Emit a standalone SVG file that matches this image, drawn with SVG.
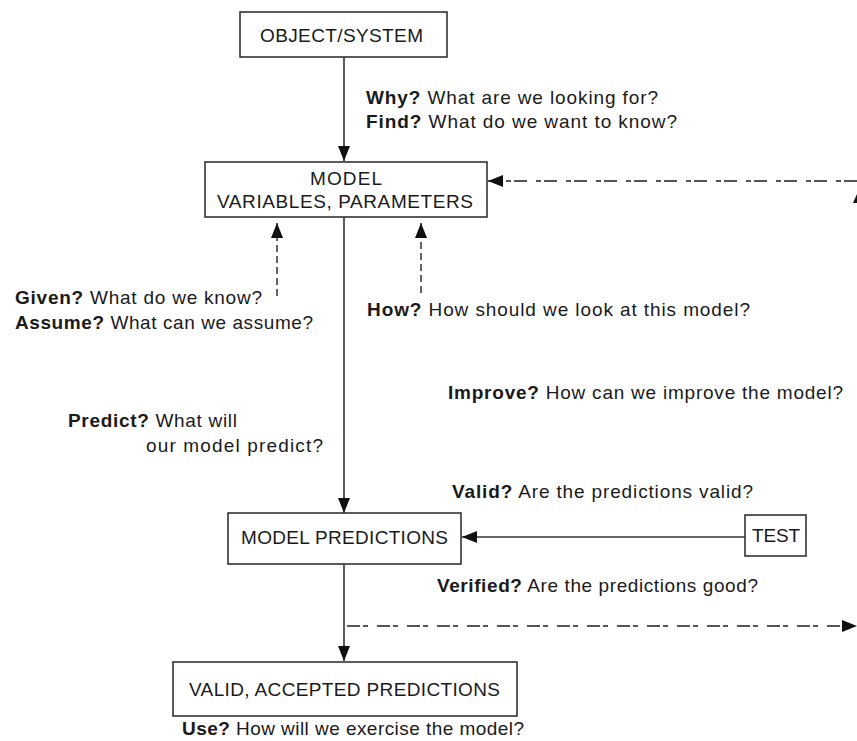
<svg xmlns="http://www.w3.org/2000/svg" width="857" height="741" viewBox="0 0 857 741">
<style>
.box{fill:#fff;stroke:#333;stroke-width:1.6}
.lbl{font-family:"Liberation Sans",Arial,sans-serif;font-size:19px;fill:#1a1a1a}
.b{font-weight:bold}
.solid{stroke:#333;stroke-width:1.6;fill:none}
.dash{stroke:#555;stroke-width:2;fill:none;stroke-dasharray:13 3 5 9}
.vdash{stroke:#555;stroke-width:1.8;fill:none;stroke-dasharray:7 4}
</style>
<defs>
<marker id="arr" markerUnits="userSpaceOnUse" markerWidth="15" markerHeight="12" refX="15" refY="6" orient="auto">
<path d="M0,0 L15,6 L0,12 z" fill="#111"/>
</marker>
</defs>
<rect width="857" height="741" fill="#fff"/>
<g id="connectors">
<line class="solid" x1="344" y1="57" x2="344" y2="161" marker-end="url(#arr)"/>
<line class="dash" x1="857" y1="181" x2="488" y2="181" marker-end="url(#arr)"/>
<polygon points="857,194 853,203 857,203" fill="#111"/>
<line class="vdash" x1="277" y1="296" x2="277" y2="223" marker-end="url(#arr)"/>
<line class="vdash" x1="421" y1="293" x2="421" y2="223" marker-end="url(#arr)"/>
<line class="solid" x1="344" y1="217" x2="344" y2="513" marker-end="url(#arr)"/>
<line class="solid" x1="745" y1="537" x2="462" y2="537" marker-end="url(#arr)"/>
<line class="solid" x1="344" y1="564" x2="344" y2="661" marker-end="url(#arr)"/>
<line class="dash" x1="347" y1="626" x2="857" y2="626" marker-end="url(#arr)"/>
</g>
<g id="object-system">
<rect class="box" x="240" y="12" width="207" height="45"/>
<text class="lbl" x="260" y="42" textLength="163" lengthAdjust="spacing">OBJECT/SYSTEM</text>
</g>
<g id="model">
<rect class="box" x="205" y="162" width="282" height="55"/>
<text class="lbl" x="310" y="185" textLength="72" lengthAdjust="spacing">MODEL</text>
<text class="lbl" x="217" y="208" textLength="256" lengthAdjust="spacing">VARIABLES, PARAMETERS</text>
</g>
<g id="model-predictions">
<rect class="box" x="228" y="513" width="233" height="51"/>
<text class="lbl" x="241" y="544" textLength="207" lengthAdjust="spacing">MODEL PREDICTIONS</text>
</g>
<g id="test">
<rect class="box" x="745" y="515" width="61" height="41"/>
<text class="lbl" x="752" y="542" textLength="48" lengthAdjust="spacing">TEST</text>
</g>
<g id="valid-accepted">
<rect class="box" x="173" y="662" width="344" height="54"/>
<text class="lbl" x="189" y="696" textLength="311" lengthAdjust="spacing">VALID, ACCEPTED PREDICTIONS</text>
</g>
<g id="labels">
<text class="lbl" x="366" y="104" textLength="292" lengthAdjust="spacing"><tspan class="b">Why?</tspan> What are we looking for?</text>
<text class="lbl" x="366" y="128" textLength="311" lengthAdjust="spacing"><tspan class="b">Find?</tspan> What do we want to know?</text>
<text class="lbl" x="15" y="304" textLength="247" lengthAdjust="spacing"><tspan class="b">Given?</tspan> What do we know?</text>
<text class="lbl" x="15" y="329" textLength="298" lengthAdjust="spacing"><tspan class="b">Assume?</tspan> What can we assume?</text>
<text class="lbl" x="367" y="316" textLength="383" lengthAdjust="spacing"><tspan class="b">How?</tspan> How should we look at this model?</text>
<text class="lbl" x="448" y="399" textLength="395" lengthAdjust="spacing"><tspan class="b">Improve?</tspan> How can we improve the model?</text>
<text class="lbl" x="68" y="427" textLength="169" lengthAdjust="spacing"><tspan class="b">Predict?</tspan> What will</text>
<text class="lbl" x="146" y="452" textLength="177" lengthAdjust="spacing">our model predict?</text>
<text class="lbl" x="452" y="498" textLength="301" lengthAdjust="spacing"><tspan class="b">Valid?</tspan> Are the predictions valid?</text>
<text class="lbl" x="437" y="592" textLength="321" lengthAdjust="spacing"><tspan class="b">Verified?</tspan> Are the predictions good?</text>
<text class="lbl" x="182" y="735" textLength="342" lengthAdjust="spacing"><tspan class="b">Use?</tspan> How will we exercise the model?</text>
</g>
</svg>
